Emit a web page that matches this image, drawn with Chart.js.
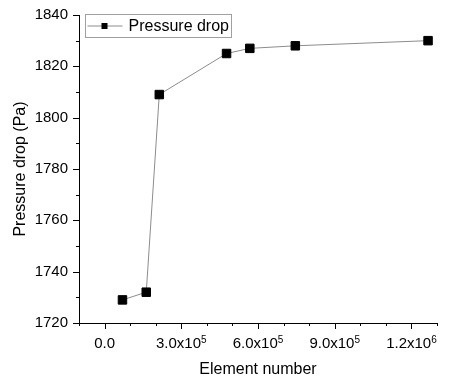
<!DOCTYPE html>
<html>
<head>
<meta charset="utf-8">
<script src="https://cdn.jsdelivr.net/npm/chart.js@4.4.0/dist/chart.umd.min.js"></script>
<style>
  html, body { margin: 0; padding: 0; background: #fff; }
  #wrap { width: 459px; height: 381px; }
</style>
</head>
<body>
<div id="wrap"><canvas id="chart" width="459" height="381"></canvas></div>
<script>
"use strict";

// Chart data
const seriesLabel = 'Pressure drop';
const elementNumbers = [70000, 163000, 214000, 477000, 568000, 746000, 1265000];
const pressureDrops = [1729, 1732, 1809, 1825, 1827, 1828, 1830];

// Tick labels (x labels are mantissa x 10 with a raised exponent)
const xLabelValues = [0, 300000, 600000, 900000, 1200000];
const xTickLabels = ['0.0', '3.0x10', '6.0x10', '9.0x10', '1.2x10'];
const xTickExponents = ['', '5', '5', '5', '6'];
const yLabelValues = [1720, 1740, 1760, 1780, 1800, 1820, 1840];

// Define fonts
var fontFamily = '"Liberation Sans", Arial, sans-serif';

// Draw outside tick marks, long for labelled ticks, short for the rest
const tickMarks = {
    id: 'tickMarks',
    afterDraw(chart) {
        const ctx = chart.ctx;
        ctx.save();
        ctx.strokeStyle = '#000';
        ctx.lineWidth = 1;
        const xs = chart.scales.x;
        xs.ticks.forEach(function (t) {
            const px = Math.round(xs.getPixelForValue(t.value)) + 0.5;
            const len = xLabelValues.indexOf(t.value) >= 0 ? 6 : 3;
            ctx.beginPath();
            ctx.moveTo(px, xs.top);
            ctx.lineTo(px, xs.top + len);
            ctx.stroke();
        });
        const ys = chart.scales.y;
        ys.ticks.forEach(function (t) {
            const py = Math.round(ys.getPixelForValue(t.value)) + 0.5;
            const len = yLabelValues.indexOf(t.value) >= 0 ? 6 : 3;
            ctx.beginPath();
            ctx.moveTo(ys.right, py);
            ctx.lineTo(ys.right - len, py);
            ctx.stroke();
        });

        // x labels with superscript exponents
        ctx.fillStyle = '#000';
        ctx.textBaseline = 'alphabetic';
        ctx.textAlign = 'left';
        const baseY = xs.top + 25;
        xLabelValues.forEach(function (v, i) {
            const px = xs.getPixelForValue(v);
            ctx.font = '15px ' + fontFamily;
            const wBase = ctx.measureText(xTickLabels[i]).width;
            ctx.font = '10px ' + fontFamily;
            const wExp = xTickExponents[i] ? ctx.measureText(xTickExponents[i]).width : 0;
            const start = px - (wBase + wExp) / 2;
            ctx.font = '15px ' + fontFamily;
            ctx.fillText(xTickLabels[i], start, baseY);
            if (wExp) {
                ctx.font = '10px ' + fontFamily;
                ctx.fillText(xTickExponents[i], start + wBase, baseY - 5);
            }
        });
        ctx.restore();
    }
};

// Legend inside the plot area, upper left
const insetLegend = {
    id: 'insetLegend',
    afterDraw(chart) {
        const ctx = chart.ctx;
        const ds = chart.data.datasets[0];
        const area = chart.chartArea;
        const x0 = area.left + 6.5, y0 = area.top - 0.5, w = 146, h = 23;
        ctx.save();
        ctx.fillStyle = '#fff';
        ctx.fillRect(x0, y0, w, h);
        ctx.strokeStyle = '#a0a0a0';
        ctx.lineWidth = 1;
        ctx.strokeRect(x0, y0, w, h);
        const cy = y0 + h / 2;
        ctx.strokeStyle = ds.borderColor;
        ctx.beginPath();
        ctx.moveTo(x0 + 2, cy);
        ctx.lineTo(x0 + 37, cy);
        ctx.stroke();
        ctx.fillStyle = '#000';
        ctx.fillRect(x0 + 16, cy - 3, 6, 6);
        ctx.font = '16px ' + fontFamily;
        ctx.textBaseline = 'middle';
        ctx.fillText(ds.label, x0 + 43, cy + 1);
        ctx.restore();
    }
};

// Chart config
const config = {
    type: 'line',
    data: {
        datasets: [
            {
                label: seriesLabel,
                data: elementNumbers.map(function (x, i) { return { x: x, y: pressureDrops[i] }; }),
                borderColor: '#8c8c8c',
                borderWidth: 1,
                pointStyle: 'rect',
                pointRadius: 6,
                pointBackgroundColor: '#000',
                pointBorderColor: '#000',
                pointBorderWidth: 1,
                tension: 0,
                clip: false
            }
        ]
    },
    options: {
        responsive: false,
        animation: false,
        layout: {
            padding: { top: 15, right: 22, bottom: 0, left: 0 }
        },
        plugins: {
            legend: { display: false },
            tooltip: { enabled: false },
            title: { display: false }
        },
        scales: {
            x: {
                type: 'linear',
                min: -100000,
                max: 1300000,
                grid: { display: false, drawTicks: true, tickLength: 6 },
                border: { display: true, color: '#000', width: 1 },
                ticks: {
                    display: false,
                    stepSize: 100000,
                    autoSkip: false,
                    maxRotation: 0
                },
                title: {
                    display: true,
                    text: 'Element number',
                    color: '#000',
                    font: { family: fontFamily, size: 16 },
                    padding: { top: 0, bottom: 2 }
                },
                afterFit: function (scale) { scale.height = 58; }
            },
            y: {
                min: 1720,
                max: 1840,
                grid: { display: false, drawTicks: true, tickLength: 6 },
                border: { display: true, color: '#000', width: 1 },
                ticks: {
                    stepSize: 10,
                    autoSkip: false,
                    padding: 5,
                    color: '#000',
                    font: { family: fontFamily, size: 15 },
                    callback: function (value) {
                        return yLabelValues.indexOf(value) >= 0 ? String(value) : '';
                    }
                },
                title: {
                    display: true,
                    text: 'Pressure drop (Pa)',
                    color: '#000',
                    font: { family: fontFamily, size: 16 },
                    padding: { top: 11, bottom: 0 }
                },
                afterFit: function (scale) { scale.width = 79; }
            }
        }
    },
    plugins: [tickMarks, insetLegend]
};

var myChart = new Chart(document.getElementById('chart'), config);
</script>
</body>
</html>
